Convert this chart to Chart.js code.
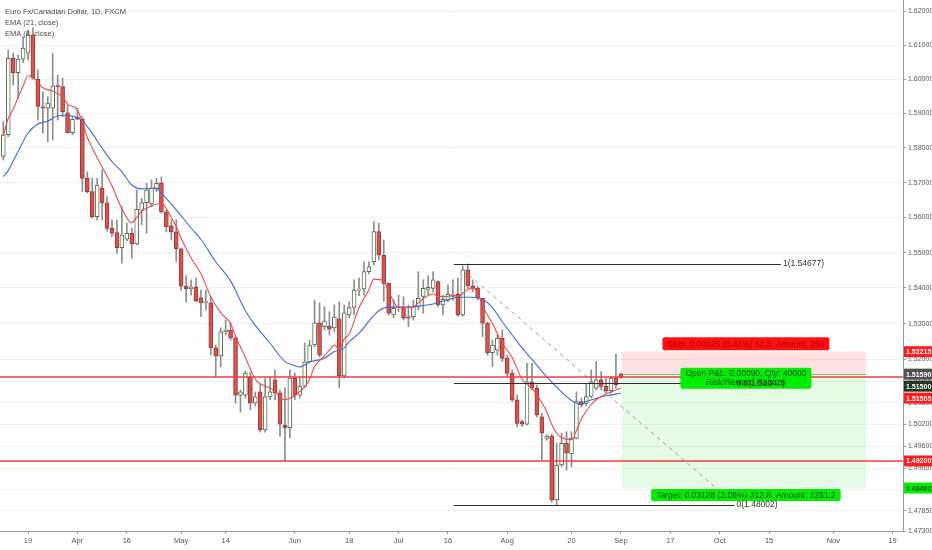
<!DOCTYPE html>
<html>
<head>
<meta charset="utf-8">
<title>Euro Fx/Canadian Dollar, 1D</title>
<script src="https://cdn.jsdelivr.net/npm/chart.js@4.4.1/dist/chart.umd.min.js"></script>
<style>
  html, body { margin: 0; padding: 0; background: #fff; }
  canvas { display: block; }
</style>
</head>
<body>
<canvas id="chart" width="932" height="550"></canvas>
<script>
// ==================== DATA ====================
// daily candles, bar index 0 = Mar 19 (weekdays only)
const firstBar = -5;
const opens = [
  1.5775, 1.5838, 1.6061, 1.6019, 1.6059, 1.6076, 1.6130, 1.6000, 1.5919, 1.5915,
  1.5915, 1.5980, 1.5978, 1.5902, 1.5844, 1.5889, 1.5883, 1.5712, 1.5674, 1.5602,
  1.5684, 1.5642, 1.5569, 1.5557, 1.5514, 1.5538, 1.5555, 1.5525, 1.5621, 1.5642,
  1.5639, 1.5682, 1.5699, 1.5616, 1.5576, 1.5559, 1.5511, 1.5405, 1.5397, 1.5403,
  1.5372, 1.5358, 1.5358, 1.5232, 1.5210, 1.5277, 1.5282, 1.5260, 1.5101, 1.5101,
  1.5151, 1.5079, 1.5110, 1.5005, 1.5096, 1.5143, 1.5107, 1.5018, 1.5011, 1.5148,
  1.5101, 1.5126, 1.5193, 1.5240, 1.5302, 1.5291, 1.5293, 1.5288, 1.5313, 1.5154,
  1.5324, 1.5345, 1.5394, 1.5397, 1.5446, 1.5474, 1.5560, 1.5493, 1.5413, 1.5324,
  1.5345, 1.5345, 1.5319, 1.5319, 1.5347, 1.5376, 1.5396, 1.5399, 1.5418, 1.5352,
  1.5366, 1.5376, 1.5382, 1.5324, 1.5451, 1.5406, 1.5399, 1.5371, 1.5301, 1.5219,
  1.5226, 1.5259, 1.5203, 1.5161, 1.5088, 1.5028, 1.5021, 1.5138, 1.5120, 1.5041,
  1.4982, 1.4988, 1.4814, 1.4909, 1.4968, 1.4939, 1.4982, 1.5083, 1.5078, 1.5097,
  1.5120, 1.5143, 1.5125, 1.5113, 1.5148, 1.5160
];
const highs = [
  1.5876, 1.6086, 1.6077, 1.6071, 1.6125, 1.6145, 1.6151, 1.6027, 1.5963, 1.5949,
  1.6076, 1.6012, 1.6003, 1.5925, 1.5891, 1.5915, 1.5891, 1.5731, 1.5712, 1.5712,
  1.5736, 1.5660, 1.5593, 1.5593, 1.5631, 1.5584, 1.5570, 1.5679, 1.5655, 1.5698,
  1.5708, 1.5712, 1.5716, 1.5622, 1.5593, 1.5593, 1.5513, 1.5434, 1.5423, 1.5428,
  1.5394, 1.5394, 1.5375, 1.5240, 1.5288, 1.5310, 1.5304, 1.5262, 1.5115, 1.5168,
  1.5165, 1.5110, 1.5132, 1.5148, 1.5151, 1.5171, 1.5115, 1.5121, 1.5171, 1.5162,
  1.5151, 1.5246, 1.5254, 1.5366, 1.5358, 1.5347, 1.5333, 1.5352, 1.5361, 1.5352,
  1.5361, 1.5423, 1.5428, 1.5474, 1.5474, 1.5588, 1.5584, 1.5536, 1.5414, 1.5366,
  1.5380, 1.5375, 1.5352, 1.5366, 1.5446, 1.5423, 1.5434, 1.5446, 1.5420, 1.5380,
  1.5409, 1.5423, 1.5428, 1.5462, 1.5468, 1.5423, 1.5406, 1.5372, 1.5305, 1.5254,
  1.5268, 1.5282, 1.5212, 1.5171, 1.5101, 1.5032, 1.5189, 1.5189, 1.5129, 1.5051,
  1.4992, 1.4994, 1.4968, 1.4996, 1.5000, 1.5000, 1.5110, 1.5093, 1.5134, 1.5171,
  1.5194, 1.5166, 1.5148, 1.5152, 1.5215, 1.5163
];
const lows = [
  1.5765, 1.5832, 1.5983, 1.5944, 1.6048, 1.6056, 1.6001, 1.5881, 1.5843, 1.5818,
  1.5823, 1.5881, 1.5891, 1.5843, 1.5838, 1.5881, 1.5674, 1.5670, 1.5598, 1.5593,
  1.5593, 1.5560, 1.5545, 1.5498, 1.5470, 1.5533, 1.5484, 1.5522, 1.5579, 1.5555,
  1.5631, 1.5673, 1.5613, 1.5559, 1.5536, 1.5474, 1.5394, 1.5361, 1.5380, 1.5361,
  1.5319, 1.5338, 1.5212, 1.5151, 1.5179, 1.5268, 1.5254, 1.5079, 1.5054, 1.5093,
  1.5060, 1.5071, 1.4999, 1.4999, 1.5088, 1.5088, 1.4988, 1.4918, 1.4983, 1.5088,
  1.5093, 1.5121, 1.5190, 1.5235, 1.5207, 1.5282, 1.5268, 1.5277, 1.5121, 1.5148,
  1.5316, 1.5324, 1.5378, 1.5380, 1.5440, 1.5465, 1.5479, 1.5362, 1.5324, 1.5316,
  1.5333, 1.5310, 1.5291, 1.5310, 1.5338, 1.5329, 1.5380, 1.5389, 1.5347, 1.5324,
  1.5361, 1.5366, 1.5321, 1.5321, 1.5399, 1.5389, 1.5366, 1.5263, 1.5212, 1.5180,
  1.5212, 1.5194, 1.5154, 1.5083, 1.5014, 1.5014, 1.5018, 1.5115, 1.5041, 1.4923,
  1.4977, 1.4808, 1.4800, 1.4904, 1.4895, 1.4904, 1.4980, 1.5068, 1.5071, 1.5093,
  1.5115, 1.5115, 1.5106, 1.5106, 1.5120, 1.5147
];
const closes = [
  1.5838, 1.6061, 1.6019, 1.6059, 1.6091, 1.6130, 1.6003, 1.5920, 1.5915, 1.5930,
  1.5980, 1.5978, 1.5905, 1.5844, 1.5883, 1.5883, 1.5712, 1.5674, 1.5602, 1.5693,
  1.5641, 1.5569, 1.5555, 1.5514, 1.5550, 1.5555, 1.5525, 1.5623, 1.5642, 1.5679,
  1.5684, 1.5698, 1.5616, 1.5573, 1.5559, 1.5511, 1.5405, 1.5397, 1.5403, 1.5364,
  1.5358, 1.5362, 1.5232, 1.5210, 1.5277, 1.5282, 1.5260, 1.5101, 1.5110, 1.5162,
  1.5079, 1.5096, 1.5005, 1.5096, 1.5110, 1.5107, 1.5021, 1.5011, 1.5148, 1.5101,
  1.5126, 1.5193, 1.5240, 1.5302, 1.5212, 1.5308, 1.5284, 1.5318, 1.5154, 1.5330,
  1.5345, 1.5394, 1.5397, 1.5446, 1.5460, 1.5560, 1.5493, 1.5413, 1.5329, 1.5343,
  1.5347, 1.5315, 1.5315, 1.5347, 1.5371, 1.5399, 1.5402, 1.5423, 1.5352, 1.5368,
  1.5382, 1.5380, 1.5324, 1.5451, 1.5406, 1.5399, 1.5371, 1.5301, 1.5219, 1.5240,
  1.5259, 1.5203, 1.5161, 1.5088, 1.5023, 1.5021, 1.5138, 1.5120, 1.5046, 1.4996,
  1.4988, 1.4814, 1.4909, 1.4968, 1.4941, 1.4982, 1.5083, 1.5074, 1.5097, 1.5138,
  1.5143, 1.5125, 1.5113, 1.5148, 1.5129, 1.5150
];

// EMA (21, close)
const ema21Idx = [-5, -4, -2, 0, 2, 4, 6, 8, 10, 11, 13, 15, 17, 19, 21, 23, 26, 27, 30, 33,
  35, 38, 41, 44, 46, 49, 52, 54, 55, 57, 60, 62, 64, 65, 67, 69, 71, 73, 77, 79,
  82, 85, 87, 90, 92, 94, 96, 98, 100, 102, 104, 106, 108, 110, 112, 113, 115, 117, 120];
const ema21Val = [1.5717, 1.5735, 1.5790, 1.5843, 1.5869, 1.5877, 1.5893, 1.5894, 1.5888, 1.5878,
  1.5842, 1.5799, 1.5760, 1.5731, 1.5693, 1.5682, 1.5684, 1.5670, 1.5622, 1.5570,
  1.5538, 1.5474, 1.5420, 1.5336, 1.5295, 1.5245, 1.5194, 1.5183, 1.5179, 1.5193,
  1.5203, 1.5222, 1.5232, 1.5249, 1.5273, 1.5307, 1.5336, 1.5346, 1.5346, 1.5349,
  1.5355, 1.5367, 1.5374, 1.5374, 1.5368, 1.5345, 1.5305, 1.5268, 1.5232, 1.5200,
  1.5167, 1.5137, 1.5110, 1.5086, 1.5076, 1.5083, 1.5092, 1.5099, 1.5106];

// EMA (8, close)
const ema8Idx = [-5, -4, -3, -2, -1, 0, 1, 2, 3, 5, 7, 8, 10, 11, 12, 13, 15, 17, 19, 21,
  22, 23, 25, 27, 29, 30, 31, 33, 35, 37, 39, 41, 42, 44, 46, 49, 50, 52, 53, 54,
  56, 57, 58, 60, 61, 62, 63, 64, 65, 67, 69, 70, 72, 73, 75, 77, 78, 80, 82, 83,
  85, 86, 87, 89, 90, 91, 92, 94, 96, 98, 100, 102, 104, 105, 106, 107, 108, 110, 111, 112,
  114, 115, 117, 119, 120];
const ema8Val = [1.5835, 1.5885, 1.5912, 1.5947, 1.5980, 1.6010, 1.6005, 1.5990, 1.5975, 1.5965,
  1.5948, 1.5928, 1.5910, 1.5875, 1.5830, 1.5800, 1.5745, 1.5690, 1.5625, 1.5585,
  1.5600, 1.5618, 1.5633, 1.5640, 1.5600, 1.5574, 1.5540, 1.5485, 1.5440, 1.5375,
  1.5330, 1.5300, 1.5265, 1.5205, 1.5145, 1.5120, 1.5111, 1.5088, 1.5092, 1.5100,
  1.5124, 1.5145, 1.5180, 1.5210, 1.5226, 1.5240, 1.5228, 1.5257, 1.5270, 1.5345,
  1.5395, 1.5425, 1.5420, 1.5390, 1.5345, 1.5345, 1.5347, 1.5370, 1.5383, 1.5376,
  1.5376, 1.5380, 1.5376, 1.5396, 1.5399, 1.5388, 1.5350, 1.5300, 1.5245, 1.5205,
  1.5145, 1.5120, 1.5080, 1.5055, 1.5020, 1.4996, 1.4984, 1.4978, 1.5003, 1.5035,
  1.5075, 1.5088, 1.5104, 1.5115, 1.5120];

// axis ticks
const xTickIdx = [0, 10, 20, 31, 40, 54, 65, 75, 85, 97, 110, 120, 130, 140, 150, 163, 175];
const xTickLabels = ['19', 'Apr', '16', 'May', '14', 'Jun', '18', 'Jul', '16', 'Aug', '20', 'Sep', '17', 'Oct', '15', 'Nov', '19'];
const yTicks = [1.62, 1.61, 1.60, 1.59, 1.58, 1.57, 1.56, 1.55, 1.54, 1.53, 1.52, 1.514, 1.508, 1.502, 1.496, 1.49, 1.4843, 1.4785, 1.473];

// drawings
const hLines = [1.51505, 1.492];
const fibLevels = [1.54677, 1.51340, 1.48002];
const fibLabels = ['1(1.54677)', '0.5(1.51340)', '0(1.48002)'];
const fibStart = 86.2;
const fibEnd = [152.4, 143.0, 143.0];
const trendFrom = [88.05, 1.5451];
const trendTo = [139.3, 1.48462];
const posStart = 120.2, posEnd = 169.6;
const entryPrice = 1.5159, stopPrice = 1.52215, targetPrice = 1.48462;
const stopText = 'Stop: 0.00625 (0.41%) 62.5, Amount: 250';
const pnlText = ['Open P&L: 0.00090, Qty: 40000', 'Risk/Reward Ratio: 5'];
const targetText = 'Target: 0.03128 (2.06%) 312.8, Amount: 1251.2';
const tagPrices = [1.52215, 1.51590, 1.51500, 1.51505, 1.49200, 1.48462];
const tagColors = ['#ff1c1c', '#4f4f4f', '#24361c', '#ff1c1c', '#ff1c1c', '#00ee00'];

// ==================== CHART ====================
const FONT = 'Liberation Sans, Arial, sans-serif';
Chart.defaults.font.family = FONT;

const bars = opens.map((o, k) => ({ i: firstBar + k, o: o, h: highs[k], l: lows[k], c: closes[k] }));
const BULL = '#ffffff', BEAR = '#d9534f';
const BULL_EDGE = '#55704f', BEAR_EDGE = '#983a38';

function drawTag(ctx, text, left, cy, w, h, bg, fg, font) {
    ctx.fillStyle = bg;
    ctx.fillRect(left, cy - h / 2, w, h);
    ctx.fillStyle = fg;
    ctx.font = font;
    ctx.textAlign = 'left';
    ctx.textBaseline = 'middle';
    ctx.fillText(text, left + 2, cy + 0.5);
}
function drawBox(ctx, lines, cx, cy, bg, fg, font, lineH) {
    ctx.font = font;
    const w = Math.max(...lines.map(t => ctx.measureText(t).width)) + 10;
    const h = lines.length * lineH + 3;
    ctx.fillStyle = bg;
    ctx.beginPath();
    if (ctx.roundRect) ctx.roundRect(cx - w / 2, cy - h / 2, w, h, 2);
    else ctx.rect(cx - w / 2, cy - h / 2, w, h);
    ctx.fill();
    ctx.fillStyle = fg;
    ctx.textAlign = 'center';
    ctx.textBaseline = 'middle';
    lines.forEach((t, k) => ctx.fillText(t, cx, cy - h / 2 + 1.5 + lineH * (k + 0.5) + 0.5));
}
function noPad(s) { s.paddingTop = 0; s.paddingBottom = 0; s.paddingLeft = 0; s.paddingRight = 0; }

const drawings = {
    id: 'drawings',
    beforeDatasetsDraw(chart) {
        const { ctx, scales: { x, y } } = chart;
        const x0 = x.getPixelForValue(posStart), x1 = x.getPixelForValue(posEnd);
        const yS = y.getPixelForValue(stopPrice), yE = y.getPixelForValue(entryPrice), yT = y.getPixelForValue(targetPrice);
        ctx.save();
        ctx.fillStyle = 'rgba(255,70,70,0.16)';
        ctx.fillRect(x0, yS, x1 - x0, yE - yS);
        ctx.fillStyle = 'rgba(40,225,40,0.12)';
        ctx.fillRect(x0, yE, x1 - x0, yT - yE);
        ctx.strokeStyle = 'rgba(60,150,60,0.6)';
        ctx.lineWidth = 1;
        ctx.beginPath(); ctx.moveTo(x0, Math.round(yE) + 0.5); ctx.lineTo(x1, Math.round(yE) + 0.5); ctx.stroke();
        ctx.restore();
    },
    afterDatasetsDraw(chart) {
        const { ctx, chartArea: a, scales: { x, y } } = chart;
        ctx.save();
        ctx.beginPath(); ctx.rect(a.left, a.top, a.right - a.left, a.bottom - a.top); ctx.clip();
        ctx.lineWidth = 1;
        // fib lines
        ctx.strokeStyle = '#2e2e2e';
        fibLevels.forEach((v, k) => {
            const yy = Math.round(y.getPixelForValue(v)) + 0.5;
            const xe = x.getPixelForValue(fibEnd[k]);
            ctx.beginPath(); ctx.moveTo(x.getPixelForValue(fibStart), yy); ctx.lineTo(xe, yy); ctx.stroke();
        });
        // dashed trend line
        ctx.strokeStyle = '#9a9a9a';
        ctx.setLineDash([4, 4]);
        ctx.beginPath();
        ctx.moveTo(x.getPixelForValue(trendFrom[0]), y.getPixelForValue(trendFrom[1]));
        ctx.lineTo(x.getPixelForValue(trendTo[0]), y.getPixelForValue(trendTo[1]));
        ctx.stroke();
        ctx.setLineDash([]);
        // horizontal red levels
        ctx.strokeStyle = '#f43a3a';
        ctx.lineWidth = 1.6;
        hLines.forEach(v => {
            const yy = Math.round(y.getPixelForValue(v));
            ctx.beginPath(); ctx.moveTo(a.left, yy); ctx.lineTo(a.right, yy); ctx.stroke();
        });
        ctx.lineWidth = 1;
        // position labels
        const cx = (x.getPixelForValue(posStart) + x.getPixelForValue(posEnd)) / 2 + 2;
        const font = '8.5px ' + FONT;
        drawBox(ctx, [stopText], cx, y.getPixelForValue(stopPrice) - 8, '#ff1010', '#a30000', font, 10);
        drawBox(ctx, pnlText, cx, y.getPixelForValue(entryPrice) + 4, '#00ee00', '#1b4a1b', font, 9);
        drawBox(ctx, [targetText], cx, y.getPixelForValue(targetPrice) + 7, '#00ee00', '#1b4a1b', font, 9);
        // fib labels on top
        ctx.fillStyle = '#333';
        ctx.font = '8.5px ' + FONT;
        ctx.textAlign = 'left';
        ctx.textBaseline = 'middle';
        fibLevels.forEach((v, k) => {
            ctx.fillText(fibLabels[k], x.getPixelForValue(fibEnd[k]) + 2, y.getPixelForValue(v));
        });
        ctx.restore();
    },
    afterDraw(chart) {
        const { ctx, chartArea: a, scales: { y } } = chart;
        ctx.save();
        // price tags on the axis
        let prev = -100;
        tagPrices.forEach((v, k) => {
            let cy = y.getPixelForValue(v);
            if (cy < prev + 12) cy = prev + 12;
            prev = cy;
            const fg = k === 5 ? '#145214' : '#ffffff';
            drawTag(ctx, v.toFixed(5), a.right + 1, cy, chart.width - a.right - 1, 11, tagColors[k], fg, 'bold 7px ' + FONT);
        });
        // header text
        ctx.fillStyle = '#4a4a4a';
        ctx.font = '7.5px ' + FONT;
        ctx.textAlign = 'left';
        ctx.textBaseline = 'middle';
        ctx.fillText('Euro Fx/Canadian Dollar, 1D, FXCM', 5, 12);
        ctx.fillText('EMA (21, close)', 5, 23);
        ctx.fillText('EMA (8, close)', 5, 34);
        ctx.restore();
    }
};

const ctx = document.getElementById('chart').getContext('2d');
window.priceChart = new Chart(ctx, {
    type: 'bar',
    data: {
        datasets: [
            {
                type: 'line', label: 'EMA 8',
                data: ema8Idx.map((v, k) => ({ x: v, y: ema8Val[k] })),
                borderColor: '#f0474a', borderWidth: 1.1, pointRadius: 0,
                cubicInterpolationMode: 'monotone', order: 0
            },
            {
                type: 'line', label: 'EMA 21',
                data: ema21Idx.map((v, k) => ({ x: v, y: ema21Val[k] })),
                borderColor: '#4169d8', borderWidth: 1.1, pointRadius: 0,
                cubicInterpolationMode: 'monotone', order: 1
            },
            {
                label: 'body',
                data: bars.map(b => ({ x: b.i, y: [b.o, b.c] })),
                backgroundColor: bars.map(b => b.c >= b.o ? BULL : BEAR),
                borderColor: bars.map(b => b.c >= b.o ? BULL_EDGE : BEAR_EDGE),
                borderWidth: 1, borderSkipped: false, barThickness: 4, minBarLength: 1,
                grouped: false, order: 2
            },
            {
                label: 'wick',
                data: bars.map(b => ({ x: b.i, y: [b.l, b.h] })),
                backgroundColor: '#8d8d8d', barThickness: 1, grouped: false, order: 3
            }
        ]
    },
    options: {
        responsive: false, animation: false, devicePixelRatio: 1,
        layout: { padding: 0 },
        plugins: { legend: { display: false }, tooltip: { enabled: false } },
        scales: {
            x: {
                type: 'linear', min: -5.67, max: 177.1, bounds: 'data', offset: false,
                afterBuildTicks: s => { s.ticks = xTickIdx.map(v => ({ value: v })); },
                afterFit: s => { s.height = 19; noPad(s); },
                ticks: {
                    callback: (v, k) => xTickLabels[k], autoSkip: false, maxRotation: 0,
                    font: { size: 7.5 }, color: '#555', padding: 2
                },
                grid: { drawOnChartArea: false, offset: false, tickLength: 3, tickColor: '#999' },
                border: { color: '#9a9a9a' }
            },
            y: {
                type: 'logarithmic', position: 'right', min: 1.473, max: 1.62335, bounds: 'data',
                afterBuildTicks: s => { s.ticks = yTicks.map(v => ({ value: v })); },
                afterFit: s => { s.width = 29; noPad(s); },
                ticks: {
                    callback: v => Number(v).toFixed(5), autoSkip: false,
                    font: { size: 7 }, color: '#555', padding: 2
                },
                grid: { color: '#eef0f2', tickLength: 3, tickColor: '#999' },
                border: { color: '#9a9a9a' }
            }
        }
    },
    plugins: [drawings]
});
</script>
</body>
</html>
